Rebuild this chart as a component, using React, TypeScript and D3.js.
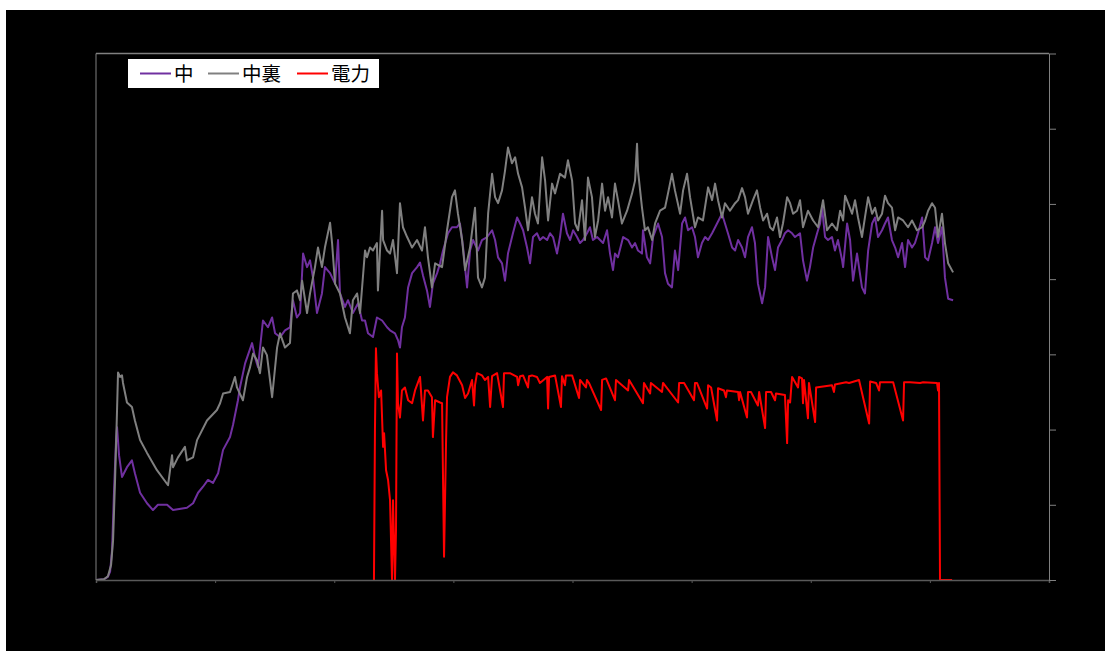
import React, { useEffect, useRef } from 'react';
import * as d3 from 'd3';

// 経過時間 [min] と 温度 / 電力 の読み取り値
const naka: [number, number][] = [
  [0, 0], [4.0, 1], [6.0, 4], [7.1, 11], [8.1, 40], [9.1, 120], [10.1, 186], [10.6, 203], [11.6, 166], [13.1, 137],
  [15.6, 150], [18.1, 159], [19.6, 142], [22.2, 116], [25.7, 102], [28.7, 93], [31.2, 100], [35.8, 100], [38.8, 93], [45.8, 96],
  [48.9, 102], [51.4, 116], [53.9, 124], [56.4, 133], [58.9, 129], [61.5, 142], [64.0, 173], [67.5, 190], [69.0, 206], [71.5, 239],
  [72.5, 256], [75.1, 288], [78.6, 315], [80.1, 296], [81.6, 283], [84.1, 345], [86.6, 336], [88.7, 349], [90.2, 328], [92.7, 323],
  [95.2, 332], [97.7, 336], [99.2, 372], [101.2, 349], [102.8, 355], [104.3, 434], [106.3, 416], [107.8, 425], [109.3, 402], [111.3, 355],
  [113.8, 381], [115.3, 416], [117.9, 408], [120.4, 394], [121.9, 452], [122.9, 381], [125.4, 363], [126.9, 372], [129.4, 355], [132.0, 368],
  [134.0, 345], [135.5, 345], [137.0, 328], [139.5, 323], [141.5, 349], [144.1, 345], [146.6, 336], [148.1, 332], [150.6, 328], [152.1, 319],
  [153.1, 309], [154.1, 336], [155.6, 349], [157.2, 389], [159.2, 408], [161.7, 416], [163.2, 422], [164.7, 405], [166.7, 385], [168.2, 363],
  [169.7, 394], [171.8, 408], [173.3, 421], [174.8, 438], [177.3, 461], [179.3, 469], [181.8, 469], [183.3, 474], [184.9, 442], [186.9, 389],
  [188.4, 438], [189.9, 452], [192.4, 438], [194.4, 452], [197.0, 456], [199.5, 465], [201.0, 452], [202.5, 429], [204.5, 421], [206.0, 398],
  [207.5, 434], [210.0, 461], [212.1, 482], [213.6, 474], [215.1, 465], [217.1, 442], [218.6, 421], [220.1, 456], [222.1, 461], [223.6, 452],
  [225.2, 456], [227.2, 452], [228.7, 461], [230.2, 456], [232.2, 434], [233.7, 456], [235.2, 487], [237.2, 461], [238.8, 452], [240.3, 465],
  [242.3, 456], [243.8, 448], [245.3, 452], [247.3, 461], [248.8, 469], [250.3, 452], [252.4, 456], [253.9, 452], [255.4, 448], [257.4, 465],
  [258.9, 434], [260.4, 412], [261.4, 434], [262.9, 429], [265.5, 456], [268.0, 452], [270.0, 442], [271.5, 448], [273.0, 438], [275.0, 434],
  [275.5, 465], [277.5, 429], [279.1, 421], [280.6, 456], [283.1, 474], [285.1, 456], [286.6, 408], [288.1, 394], [290.1, 389], [291.6, 438],
  [293.2, 412], [295.2, 474], [296.7, 482], [298.2, 465], [300.2, 469], [301.7, 456], [303.2, 429], [305.2, 448], [306.8, 456], [308.3, 452],
  [310.3, 461], [312.8, 474], [315.3, 487], [316.8, 474], [318.3, 461], [320.4, 442], [321.9, 438], [323.4, 452], [325.4, 442], [326.9, 429],
  [328.4, 456], [330.4, 469], [331.9, 448], [333.4, 394], [335.5, 368], [337.0, 389], [338.5, 456], [340.5, 429], [342.0, 412], [343.5, 442],
  [345.5, 452], [347.0, 461], [348.6, 465], [350.6, 461], [352.1, 456], [354.6, 461], [356.1, 425], [358.1, 398], [359.6, 416], [361.2, 442],
  [363.2, 461], [364.7, 474], [365.7, 495], [367.2, 456], [368.7, 452], [370.7, 456], [372.2, 438], [373.7, 452], [375.8, 425], [376.3, 416],
  [378.3, 474], [379.8, 452], [381.3, 398], [383.3, 434], [385.8, 389], [387.3, 381], [388.9, 438], [390.9, 474], [392.4, 482], [393.9, 456],
  [395.9, 465], [397.4, 474], [398.9, 482], [400.9, 452], [402.5, 442], [404.0, 429], [406.0, 448], [407.5, 416], [409.0, 452], [411.0, 442],
  [412.5, 448], [414.0, 461], [416.1, 482], [417.6, 429], [419.1, 425], [421.1, 448], [422.6, 469], [424.1, 448], [426.1, 469], [427.6, 402],
  [429.2, 374], [431.7, 372],
];

const nakaUra: [number, number][] = [
  [0, 0], [4.0, 1], [6.0, 5], [7.6, 20], [8.6, 53], [9.6, 133], [10.6, 226], [11.1, 276], [12.1, 270], [13.1, 272],
  [13.6, 262], [15.6, 236], [18.1, 230], [19.6, 212], [22.2, 186], [25.7, 169], [30.7, 146], [36.3, 126], [38.3, 166], [38.8, 150],
  [41.3, 163], [44.8, 177], [45.8, 159], [48.9, 163], [50.9, 186], [55.9, 212], [60.9, 226], [62.5, 235], [64.0, 248], [67.5, 250],
  [69.0, 262], [70.0, 270], [71.0, 256], [74.0, 239], [76.1, 270], [77.6, 283], [79.1, 301], [81.1, 292], [82.6, 275], [84.1, 309],
  [86.1, 299], [88.7, 243], [91.2, 309], [92.7, 328], [95.2, 309], [97.7, 315], [99.2, 381], [101.2, 385], [102.8, 372], [103.8, 398],
  [106.3, 355], [107.8, 381], [110.3, 416], [111.8, 442], [113.8, 416], [115.3, 442], [117.9, 475], [118.9, 448], [120.4, 394], [122.9, 381],
  [125.4, 349], [127.9, 328], [129.4, 372], [131.5, 381], [133.0, 355], [135.5, 438], [136.5, 429], [138.0, 442], [139.5, 438], [141.5, 448],
  [142.0, 385], [144.1, 491], [144.6, 452], [146.6, 438], [148.1, 434], [149.6, 452], [151.6, 408], [153.1, 501], [154.6, 469], [156.7, 456],
  [159.2, 442], [161.7, 452], [164.2, 438], [165.7, 469], [167.2, 429], [169.2, 389], [170.8, 421], [174.3, 416], [176.8, 465], [179.3, 509],
  [180.8, 518], [182.3, 487], [184.4, 452], [185.9, 412], [188.4, 442], [190.9, 495], [192.4, 402], [194.4, 389], [195.9, 402], [197.5, 487],
  [199.5, 540], [201.0, 509], [202.5, 501], [204.5, 518], [206.0, 544], [207.5, 575], [209.5, 554], [211.1, 562], [212.6, 540], [214.6, 522],
  [216.1, 495], [217.6, 465], [219.6, 509], [221.1, 487], [222.6, 474], [224.7, 562], [226.2, 531], [227.7, 478], [229.7, 527], [231.2, 514],
  [233.7, 540], [236.2, 535], [237.7, 558], [239.8, 531], [241.3, 474], [242.8, 465], [244.8, 505], [246.3, 452], [247.8, 535], [249.8, 509],
  [251.3, 456], [252.9, 478], [254.9, 527], [256.4, 491], [257.9, 509], [259.9, 482], [261.4, 527], [262.9, 505], [264.9, 474], [267.5, 491],
  [270.0, 514], [271.5, 531], [272.5, 580], [273.0, 544], [275.0, 495], [276.5, 465], [278.0, 469], [280.1, 452], [281.6, 474], [284.1, 491],
  [286.6, 495], [288.1, 514], [290.1, 540], [291.6, 518], [294.2, 487], [295.7, 518], [297.7, 540], [299.2, 509], [301.7, 469], [303.2, 482],
  [305.7, 478], [308.3, 522], [310.3, 505], [311.8, 527], [313.3, 505], [315.3, 482], [316.8, 501], [319.3, 491], [321.9, 501], [323.4, 505],
  [325.4, 521], [326.9, 509], [328.4, 487], [330.9, 505], [332.9, 518], [334.5, 495], [336.0, 478], [338.0, 487], [339.5, 469], [341.0, 465],
  [343.0, 482], [344.5, 456], [346.0, 474], [348.1, 509], [349.6, 501], [351.1, 487], [353.1, 491], [354.6, 505], [356.1, 469], [358.6, 491],
  [361.2, 478], [363.7, 469], [366.2, 505], [368.2, 465], [370.7, 474], [373.2, 465], [374.8, 491], [376.3, 478], [377.3, 511], [378.8, 501],
  [380.8, 487], [382.3, 505], [383.8, 482], [385.8, 456], [387.3, 482], [388.9, 509], [390.9, 487], [392.4, 495], [393.9, 478], [395.9, 487],
  [397.4, 511], [398.9, 501], [400.9, 495], [402.5, 465], [404.0, 482], [406.5, 478], [409.0, 469], [411.0, 478], [413.5, 465], [416.1, 469],
  [417.6, 478], [419.1, 491], [421.1, 501], [422.6, 495], [424.1, 456], [426.1, 487], [427.6, 448], [429.2, 421], [431.7, 409],
];

const denryoku: [number, number][] = [
  [140.0, 0], [140.5, 199], [141.0, 308], [141.5, 275], [142.5, 243], [143.6, 252], [144.6, 177], [145.1, 195], [146.1, 146], [147.1, 133],
  [148.1, 106], [149.1, 0], [149.6, 106], [150.6, 0], [151.1, 66], [151.6, 301], [152.1, 235], [153.1, 216], [154.1, 252], [155.6, 256],
  [157.2, 239], [159.2, 235], [160.7, 252], [163.2, 270], [164.7, 212], [165.7, 252], [167.2, 252], [169.2, 243], [169.7, 190], [170.8, 239],
  [173.3, 236], [174.3, 235], [175.3, 31], [176.3, 182], [176.8, 243], [178.3, 270], [179.8, 276], [181.8, 272], [184.4, 259], [185.9, 242],
  [187.4, 248], [189.4, 266], [190.4, 232], [190.9, 259], [191.9, 275], [194.4, 272], [195.9, 266], [197.5, 270], [198.5, 230], [199.5, 271],
  [202.0, 275], [205.0, 230], [205.5, 275], [208.5, 275], [212.1, 270], [212.6, 259], [213.6, 271], [215.1, 272], [217.6, 256], [218.1, 271],
  [219.6, 272], [222.1, 270], [223.6, 262], [227.2, 270], [227.7, 228], [228.2, 270], [231.2, 272], [234.2, 230], [234.7, 271], [236.2, 259],
  [236.7, 272], [239.8, 272], [243.3, 242], [243.8, 266], [246.8, 256], [247.3, 266], [248.3, 262], [254.4, 226], [254.9, 266], [256.9, 268],
  [261.4, 239], [261.9, 266], [268.0, 252], [268.5, 266], [275.5, 235], [276.0, 262], [279.1, 248], [279.5, 262], [285.1, 250], [285.6, 262],
  [293.2, 236], [293.7, 262], [296.2, 262], [301.2, 239], [301.7, 262], [302.7, 262], [307.8, 228], [308.3, 259], [309.8, 256], [312.8, 212],
  [313.3, 255], [316.3, 252], [317.3, 243], [317.8, 252], [323.4, 250], [323.9, 239], [324.4, 250], [327.9, 216], [328.4, 250], [329.9, 250],
  [333.4, 232], [334.0, 250], [337.0, 202], [337.5, 250], [340.0, 250], [342.0, 239], [342.5, 248], [347.0, 246], [348.1, 182], [348.6, 239],
  [349.6, 236], [350.6, 270], [353.6, 256], [354.1, 270], [355.6, 268], [356.1, 235], [356.6, 266], [358.6, 215], [359.1, 262], [362.2, 210],
  [362.7, 256], [370.7, 259], [371.7, 250], [372.2, 260], [377.8, 263], [379.3, 262], [384.3, 266], [389.4, 208], [389.9, 264], [392.9, 262],
  [394.4, 252], [394.9, 263], [401.5, 263], [406.5, 212], [407.0, 263], [410.0, 263], [415.1, 262], [416.6, 263], [423.6, 262], [424.1, 252],
  [424.6, 262], [425.1, 0], [431.2, 0],
];

const xTicks = [0, 60, 120, 180, 240, 300, 360, 420, 480];
const yTicks = [0, 100, 200, 300, 400, 500, 600, 700];
const seriesNames = ['中', '中裏', '電力'];
const seriesColors = ['#7030A0', '#808080', '#FF0000'];

const W = 1105;
const H = 651;
const plot = { left: 96, top: 53.5, right: 1049, bottom: 580 };

const App = () => {
  const xAxisRef = useRef<SVGGElement>(null);
  const yAxisRef = useRef<SVGGElement>(null);

  const x = d3.scaleLinear().domain([0, 480]).range([plot.left, plot.right]);
  const y = d3.scaleLinear().domain([0, 700]).range([plot.bottom, plot.top]);

  const line = d3.line<[number, number]>()
    .x(d => x(d[0]))
    .y(d => y(d[1]));

  useEffect(() => {
    const gx = d3.select(xAxisRef.current);
    gx.selectAll('*').remove();
    gx.call(d3.axisBottom(x).tickValues(xTicks).tickSize(3).tickFormat(() => ''));
    gx.select('.domain').attr('stroke', '#595959').attr('stroke-width', 1.5);
    gx.selectAll('.tick line').attr('stroke', '#595959');

    const gy = d3.select(yAxisRef.current);
    gy.selectAll('*').remove();
    gy.call(d3.axisRight(y).tickValues(yTicks).tickSize(7).tickSizeOuter(0).tickFormat(() => ''));
    gy.select('.domain').attr('stroke', '#808080');
    gy.selectAll('.tick line').attr('stroke', '#808080');
  }, []);

  const series = [naka, nakaUra, denryoku];

  return (
    <div>
      <style>{'body{margin:0}'}</style>
      <svg width={W} height={H} style={{ display: 'block' }}>
        <rect x={0} y={0} width={W} height={H} fill="#ffffff" />
        <rect x={6} y={10} width={W - 6} height={H - 10} fill="#000000" />

        {/* plot area frame */}
        <line x1={plot.left} x2={plot.right} y1={plot.top} y2={plot.top} stroke="#808080" strokeWidth={1.5} />
        <line x1={plot.left} x2={plot.left} y1={plot.top} y2={plot.bottom} stroke="#808080" strokeWidth={1} />

        <g clipPath="url(#plotClip)">
          {series.map((s, i) => (
            <path key={seriesNames[i]} d={line(s) ?? ''} fill="none" stroke={seriesColors[i]}
              strokeWidth={2} strokeLinejoin="round" />
          ))}
        </g>
        <defs>
          <clipPath id="plotClip">
            <rect x={plot.left} y={plot.top - 2} width={plot.right - plot.left} height={plot.bottom - plot.top + 2} />
          </clipPath>
        </defs>

        <g ref={xAxisRef} transform={`translate(0,${plot.bottom})`} />
        <g ref={yAxisRef} transform={`translate(${plot.right},0)`} />

        {/* legend */}
        <g transform="translate(128,59)">
          <rect x={0} y={0} width={251} height={29} fill="#ffffff" />
          {seriesNames.map((name, i) => {
            const offs = [12, 80, 169][i];
            return (
              <g key={name} transform={`translate(${offs},0)`}>
                <line x1={0} x2={31} y1={14.5} y2={14.5} stroke={seriesColors[i]} strokeWidth={2} />
                <text x={34} y={22} fontSize={19.5} fontFamily="'Noto Sans CJK JP', sans-serif" fill="#000000">{name}</text>
              </g>
            );
          })}
        </g>
      </svg>
    </div>
  );
};

export default App;
